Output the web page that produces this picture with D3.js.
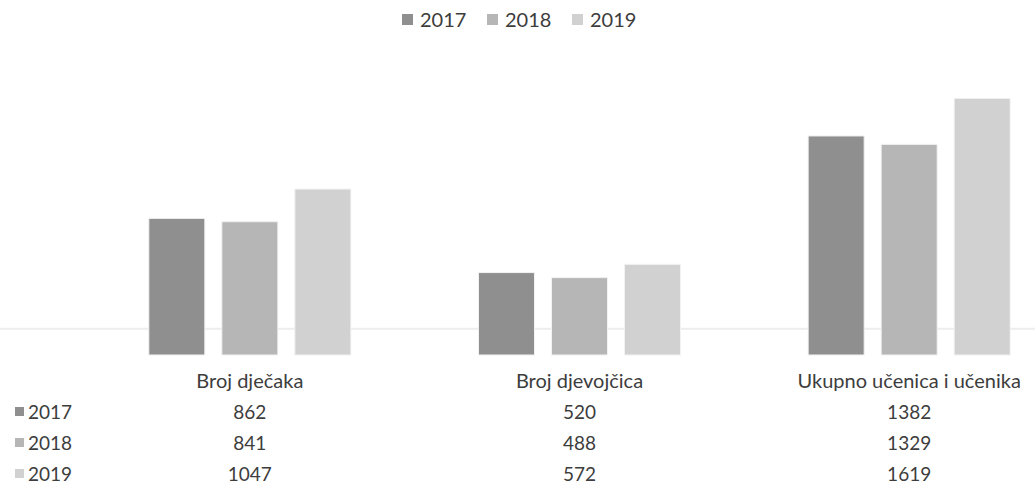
<!DOCTYPE html>
<html><head><meta charset="utf-8">
<script src="https://cdn.jsdelivr.net/npm/d3@7"></script>
<style>
html,body{margin:0;padding:0;background:#fff;}
svg{display:block;}
text{font-family:Lato,"Open Sans",sans-serif;fill:#3d3d3d;}
</style></head>
<body>
<svg id="chart" width="1035" height="501"></svg>
<script>
const categories = ["Broj dječaka", "Broj djevojčica", "Ukupno učenica i učenika"];
const years = ["2017", "2018", "2019"];
const values2017 = [862, 520, 1382];
const values2018 = [841, 488, 1329];
const values2019 = [1047, 572, 1619];
const colors = ["#8f8f8f", "#b6b6b6", "#d1d1d1"];
const faintLevel = 165;

const series = [values2017, values2018, values2019];
const svg = d3.select("#chart");

const x0 = d3.scaleBand().domain(categories).range([85, 1074]).paddingInner(0).paddingOuter(0);
const x1 = d3.scaleBand().domain(years).range([0, x0.bandwidth()]).paddingInner(0.233).paddingOuter(0.874);
const y = d3.scaleLinear().domain([0, 1800]).range([355, 355 - 1800 * 0.1585]);
const color = d3.scaleOrdinal().domain(years).range(colors);

// faint horizontal line
svg.append("line").attr("x1", 0).attr("x2", 1035)
  .attr("y1", y(faintLevel)).attr("y2", y(faintLevel))
  .attr("stroke", "#ededed").attr("stroke-width", 2);

// bars
const g = svg.append("g");
categories.forEach((c, ci) => {
  years.forEach((yr, yi) => {
    const v = series[yi][ci];
    g.append("rect")
      .attr("x", x0(c) + x1(yr))
      .attr("y", y(v))
      .attr("width", x1.bandwidth())
      .attr("height", y(0) - y(v))
      .attr("fill", color(yr))
      .attr("stroke", "#f2f2f2").attr("stroke-width", 1);
  });
});

// category labels
svg.selectAll(".cat").data(categories).join("text")
  .attr("x", d => x0(d) + x0.bandwidth() / 2)
  .attr("y", 388)
  .attr("text-anchor", "middle")
  .style("font-size", "20px")
  .text(d => d);

// data table rows
const rowY = [419, 450, 481];
years.forEach((yr, yi) => {
  svg.append("rect").attr("x", 15).attr("y", rowY[yi] - 12).attr("width", 9).attr("height", 9)
    .attr("fill", color(yr));
  svg.append("text").attr("x", 28).attr("y", rowY[yi])
    .style("font-size", "19px").text(yr);
  categories.forEach((c, ci) => {
    svg.append("text")
      .attr("x", x0(c) + x0.bandwidth() / 2)
      .attr("y", rowY[yi])
      .attr("text-anchor", "middle")
      .style("font-size", "19px")
      .text(series[yi][ci]);
  });
});

// legend
const legendX = [402, 487, 572];
years.forEach((yr, i) => {
  svg.append("rect").attr("x", legendX[i]).attr("y", 14).attr("width", 11).attr("height", 11)
    .attr("fill", color(yr));
  svg.append("text").attr("x", legendX[i] + 18).attr("y", 27)
    .style("font-size", "20px").text(yr);
});
</script>
</body></html>
